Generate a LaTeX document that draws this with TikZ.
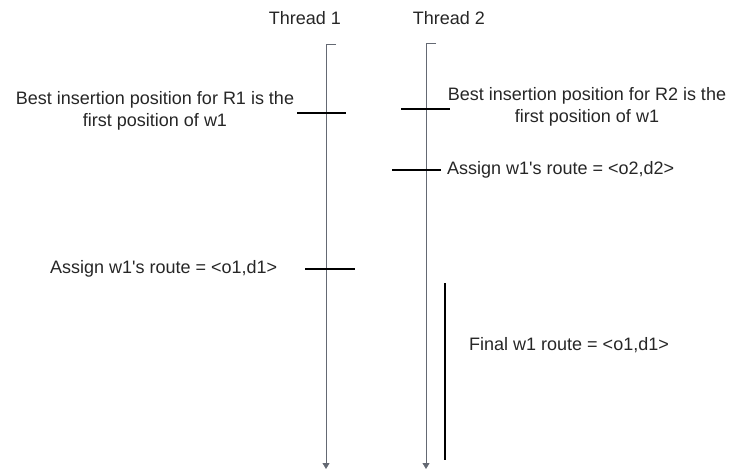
\documentclass[tikz,border=0pt]{standalone}
\usepackage{fontspec}
\setmainfont{Liberation Sans}
\usetikzlibrary{arrows.meta}
\definecolor{threadgray}{RGB}{100,105,115}
\begin{document}
\begin{tikzpicture}[x=1pt,y=-1pt,
  lbl/.style={font=\fontsize{18}{22}\selectfont, text=black!85, inner sep=0pt, align=center},
  thread/.style={draw=threadgray, line width=0.8pt, -{Triangle[width=7pt,length=6pt]}},
  tick/.style={draw=black, line width=1.3pt},
  bar/.style={draw=black, line width=2pt}]
\useasboundingbox (0,0) rectangle (731,473);
% threads
\coordinate (t1s) at (326,44);
\coordinate (t1e) at (326,469);
\coordinate (t2s) at (426,43);
\coordinate (t2e) at (426,469);
\draw[thread] (336,44) -- (t1s) -- (t1e);
\draw[thread] (436,43) -- (t2s) -- (t2e);
\node[lbl] (h1) at (305,18) {Thread 1};
\node[lbl] (h2) at (449,18) {Thread 2};
% ticks
\coordinate (a1) at (297,113); \coordinate (a2) at (346,113);
\coordinate (b1) at (401,109); \coordinate (b2) at (450,109);
\coordinate (c1) at (392,170); \coordinate (c2) at (441,170);
\coordinate (d1) at (305,269); \coordinate (d2) at (355,269);
\draw[tick] (a1) -- (a2);
\draw[tick] (b1) -- (b2);
\draw[tick] (c1) -- (c2);
\draw[tick] (d1) -- (d2);
% bar
\coordinate (e1) at (445,283); \coordinate (e2) at (445,460);
\draw[bar] (e1) -- (e2);
% labels
\node[lbl] (l1) at (155,111) {Best insertion position for R1 is the\\first position of w1};
\node[lbl] (l2) at (587,107) {Best insertion position for R2 is the\\first position of w1};
\node[lbl, anchor=west] (l3) at (447,170) {Assign w1\textquotesingle s route = <o2,d2>};
\node[lbl, anchor=west] (l4) at (50,269) {Assign w1\textquotesingle s route = <o1,d1>};
\node[lbl, anchor=west] (l5) at (469,345) {Final w1 route = <o1,d1>};
\end{tikzpicture}
\end{document}
